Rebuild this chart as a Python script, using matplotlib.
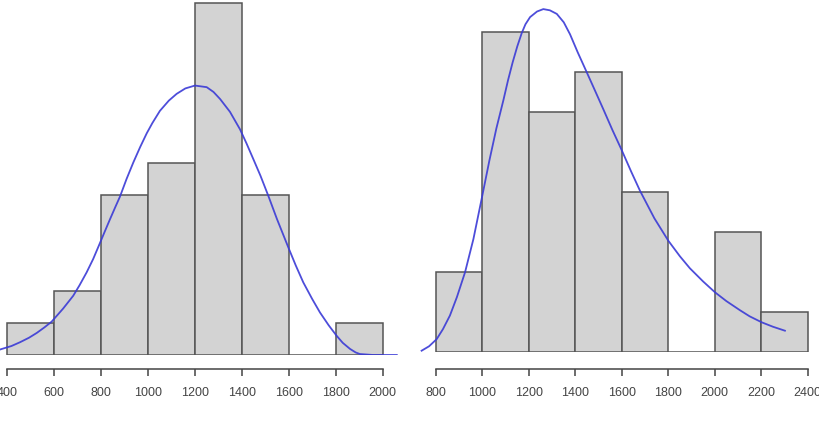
import matplotlib.pyplot as plt
import numpy as np

# --- Left histogram data ---
left_edges = [400, 600, 800, 1000, 1200, 1400, 1600, 1800, 2000]
left_counts = [1, 2, 5, 6, 11, 5, 0, 1]
left_curve_x = [371, 420, 457, 495, 528, 560, 591, 640, 683, 710, 740, 768, 794, 818,
                840, 862, 882, 910, 939, 968, 996, 1020, 1052, 1090, 1123, 1160,
                1201, 1251, 1280, 1308, 1350, 1393, 1420, 1449, 1480, 1513, 1550,
                1598, 1630, 1662, 1700, 1733, 1770, 1804, 1830, 1861, 1885, 1903,
                1960, 2060]
left_curve_y = [0.17, 0.28, 0.40, 0.54, 0.69, 0.86, 1.04, 1.45, 1.85, 2.18, 2.58,
                3.0, 3.45, 3.87, 4.25, 4.62, 4.95, 5.5, 6.02, 6.5, 6.93, 7.25, 7.63,
                7.95, 8.16, 8.33, 8.42, 8.37, 8.22, 8.0, 7.6, 7.05, 6.62, 6.13, 5.6,
                4.98, 4.25, 3.37, 2.8, 2.27, 1.75, 1.33, 0.93, 0.6, 0.38, 0.19, 0.08,
                0.03, 0.0, 0.0]
left_ticks = [400, 600, 800, 1000, 1200, 1400, 1600, 1800, 2000]

# --- Right histogram data ---
right_edges = [800, 1000, 1200, 1400, 1600, 1800, 2000, 2200, 2400]
right_counts = [2, 8, 6, 7, 4, 0, 3, 1]
right_curve_x = [738, 770, 803, 830, 860, 890, 925, 961, 997, 1030, 1060, 1090, 1110,
                 1130, 1150, 1169, 1185, 1205, 1235, 1262, 1290, 1320, 1350, 1377,
                 1410, 1449, 1480, 1520, 1560, 1599, 1640, 1678, 1740, 1800, 1850,
                 1893, 1950, 2001, 2050, 2109, 2150, 2202, 2250, 2302]
right_curve_y = [0.04, 0.15, 0.33, 0.58, 0.92, 1.38, 2.0, 2.83, 3.85, 4.8, 5.6, 6.3,
                 6.8, 7.25, 7.65, 7.98, 8.2, 8.38, 8.52, 8.58, 8.55, 8.46, 8.25, 7.95,
                 7.5, 7.0, 6.6, 6.08, 5.55, 5.06, 4.52, 4.04, 3.35, 2.79, 2.4, 2.1,
                 1.77, 1.5, 1.28, 1.05, 0.9, 0.75, 0.64, 0.54]
right_ticks = [800, 1000, 1200, 1400, 1600, 1800, 2000, 2200, 2400]

W, H = 819, 427
fig = plt.figure(figsize=(W / 100, H / 100), dpi=100)
plt.rcParams['font.family'] = ['Liberation Sans', 'DejaVu Sans']


def draw_hist(rect, edges, counts, cx, cy, ticks, xlim, ylim, offset):
    ax = fig.add_axes(rect)
    edges = np.array(edges)
    ax.bar(edges[:-1], counts, width=np.diff(edges), align='edge',
           color='#d3d3d3', edgecolor='#555555', linewidth=1.1)
    ax.plot(cx, cy, color='#3a3ad6', linewidth=1.3, alpha=0.9)
    ax.set_xlim(*xlim)
    ax.set_ylim(*ylim)
    for s in ['top', 'right', 'left']:
        ax.spines[s].set_visible(False)
    ax.spines['bottom'].set_position(('outward', offset))
    ax.spines['bottom'].set_bounds(ticks[0], ticks[-1])
    ax.spines['bottom'].set_color('#444444')
    ax.spines['bottom'].set_linewidth(1.1)
    ax.set_yticks([])
    ax.set_xticks(ticks)
    ax.tick_params(axis='x', direction='out', length=5, width=1.1, color='#444444',
                   labelsize=9, labelcolor='#444444', pad=7)
    ax.patch.set_alpha(0)
    return ax


# left panel: baseline at y=356 px, 32 px per count, 0.235 px per unit
draw_hist([0, (H - 356) / H, 405 / W, 356 / H], left_edges, left_counts,
          left_curve_x, left_curve_y, left_ticks,
          (371.5, 371.5 + 405 / 0.235), (0, 356 / 32), 10)

# right panel: baseline at y=353 px, 40 px per count, 0.2323 px per unit
draw_hist([410 / W, (H - 353.3) / H, 409 / W, 353.3 / H], right_edges, right_counts,
          right_curve_x, right_curve_y, right_ticks,
          (800 - 26 / 0.2323, 800 + 383 / 0.2323), (0, 353.3 / 40), 12)

plt.savefig('out.png', dpi=100)
